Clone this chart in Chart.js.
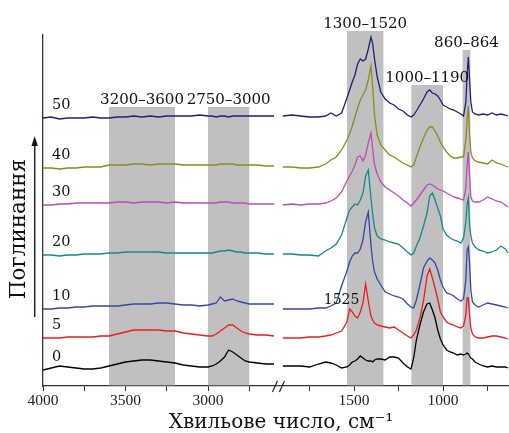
<!DOCTYPE html>
<html lang="uk">
<head>
<meta charset="utf-8">
<title>Поглинання</title>
<script src="https://cdn.jsdelivr.net/npm/chart.js@4.4.1/dist/chart.umd.min.js"></script>
<style>
  html, body { margin: 0; padding: 0; background: #fff; }
  #wrap { position: relative; width: 509px; height: 433px; }
</style>
</head>
<body>
<div id="wrap"><canvas id="spectra"></canvas></div>
<script>
// wavenumbers, cm-1 (left part of the broken axis and right part)
const wnLeft = [4000, 3950, 3900, 3850, 3800, 3750, 3700, 3650, 3600, 3550, 3500, 3450, 3400, 3350, 3300, 3250, 3200,
  3150, 3100, 3050, 3000, 2975, 2950, 2925, 2900, 2875, 2850, 2825, 2800, 2775, 2750, 2700, 2650, 2600];
const wnRight = [1900, 1850, 1800, 1750, 1700, 1660, 1630, 1600, 1570, 1540, 1525, 1510, 1495, 1480, 1465, 1450, 1435,
  1420, 1405, 1395, 1385, 1370, 1350, 1325, 1300, 1275, 1250, 1225, 1200, 1180, 1165, 1150, 1130, 1110, 1090, 1075,
  1060, 1045, 1030, 1015, 1000, 980, 960, 940, 920, 900, 885, 872, 865, 858, 851, 844, 835, 820, 800, 775, 750, 725,
  700, 675, 650, 635];

// absorbance (stacked, arbitrary units)
const s0L = [16, 18, 20, 19, 18, 17, 17, 18, 20, 22, 24, 25, 26, 26, 25, 24, 23, 21, 20, 19, 19, 20, 22, 25, 29, 36, 34, 31, 28, 25, 24, 23, 22, 22];
const s0R = [20, 20, 20, 19, 22, 24, 23, 21, 18, 19, 21, 24, 25, 27, 30, 28, 26, 25, 25, 24, 26, 27, 27, 26, 29, 29, 28, 23, 19, 17,
  28, 46, 61, 74, 82, 83, 76, 68, 56, 47, 41, 36, 34, 33, 31, 32, 31, 32, 33, 32, 30, 28, 27, 24, 22, 20, 19, 20, 19, 19, 19, 18];
const s5L = [48, 48, 48, 49, 49, 49, 49, 50, 50, 52, 54, 56, 56, 56, 56, 55, 55, 53, 52, 51, 50, 50, 52, 55, 58, 61, 61, 58, 55, 53, 52, 51, 51, 50];
const s5R = [48, 48, 48, 49, 49, 50, 51, 53, 55, 64, 77, 74, 70, 68, 74, 83, 102, 85, 70, 66, 63, 61, 60, 59, 58, 59, 56, 53, 50, 48,
  51, 56, 68, 85, 110, 117, 108, 98, 87, 74, 69, 64, 62, 61, 59, 58, 60, 71, 88, 88, 71, 58, 52, 49, 48, 48, 49, 50, 50, 49, 48, 47];
const s10L = [77, 77, 78, 78, 79, 79, 80, 80, 80, 80, 81, 82, 82, 82, 83, 83, 82, 81, 81, 80, 81, 82, 83, 89, 85, 86, 87, 85, 84, 83, 82, 82, 82, 82];
const s10R = [77, 77, 77, 77, 78, 78, 80, 83, 100, 115, 124, 130, 133, 133, 137, 146, 164, 174, 141, 124, 114, 107, 101, 94, 92, 90, 89, 87, 82, 79,
  78, 86, 101, 118, 125, 128, 126, 123, 116, 106, 99, 93, 92, 90, 87, 85, 87, 106, 136, 139, 124, 96, 84, 81, 79, 81, 83, 82, 81, 80, 79, 78];
const s20L = [131, 131, 130, 131, 131, 132, 132, 132, 133, 133, 134, 134, 134, 134, 134, 133, 133, 133, 133, 133, 133, 133, 134, 135, 135, 136, 135, 134, 134, 133, 133, 133, 132, 132];
const s20R = [132, 132, 131, 131, 130, 135, 138, 142, 151, 168, 176, 179, 182, 181, 186, 193, 210, 216, 188, 171, 158, 150, 147, 146, 144, 143, 142, 138, 134, 131,
  133, 140, 148, 160, 173, 190, 193, 186, 178, 170, 157, 151, 148, 146, 145, 143, 148, 164, 181, 188, 161, 150, 143, 139, 136, 135, 133, 134, 136, 140, 137, 133];
const s30L = [181, 181, 182, 182, 183, 183, 183, 183, 183, 184, 184, 183, 184, 184, 184, 183, 184, 183, 183, 183, 183, 183, 183, 184, 184, 184, 183, 183, 183, 183, 182, 182, 182, 182];
const s30R = [181, 182, 181, 182, 182, 183, 185, 188, 194, 205, 210, 215, 221, 229, 230, 225, 231, 243, 253, 236, 221, 212, 204, 199, 196, 193, 190, 186, 183, 180,
  183, 186, 191, 196, 201, 202, 201, 199, 197, 196, 195, 193, 191, 189, 188, 187, 186, 198, 221, 234, 211, 189, 185, 184, 184, 186, 189, 187, 185, 184, 181, 179];
const s40L = [218, 218, 217, 218, 218, 219, 219, 219, 221, 221, 221, 222, 222, 221, 222, 222, 222, 221, 221, 221, 221, 221, 221, 222, 222, 222, 222, 221, 221, 221, 221, 221, 220, 220];
const s40R = [219, 219, 218, 218, 219, 222, 226, 229, 236, 246, 252, 260, 269, 278, 286, 291, 296, 306, 320, 298, 271, 251, 241, 236, 231, 229, 226, 223, 221, 219,
  221, 229, 239, 248, 256, 259, 259, 255, 250, 244, 239, 234, 230, 228, 228, 229, 229, 246, 266, 280, 251, 234, 228, 225, 224, 223, 222, 226, 223, 222, 220, 219];
const s50L = [268, 269, 267, 268, 268, 268, 269, 268, 268, 269, 269, 270, 269, 270, 269, 270, 270, 270, 270, 271, 270, 270, 269, 270, 270, 269, 270, 270, 270, 270, 270, 270, 270, 270];
const s50R = [270, 271, 270, 269, 269, 270, 273, 270, 273, 288, 296, 304, 311, 322, 327, 325, 327, 337, 349, 342, 327, 309, 294, 287, 283, 281, 277, 275, 271, 269,
  271, 275, 281, 287, 294, 296, 293, 292, 290, 286, 281, 279, 277, 276, 274, 272, 270, 284, 311, 329, 307, 284, 274, 272, 271, 272, 271, 273, 271, 272, 271, 270];

const seriesNames = ['0', '5', '10', '20', '30', '40', '50'];
const seriesLeft = [s0L, s5L, s10L, s20L, s30L, s40L, s50L];
const seriesRight = [s0R, s5R, s10R, s20R, s30R, s40R, s50R];
const seriesColors = ['#000000', '#ee1c1c', '#3446a8', '#138a8a', '#c04ab4', '#8c8c1c', '#1f1f7a'];

// x axis ticks
const tickValues = [4000, 3750, 3500, 3250, 3000, 2750, 1750, 1500, 1250, 1000, 750];
const tickLabels = ['4000', '', '3500', '', '3000', '', '', '1500', '', '1000', ''];

// highlighted bands: wavenumber range and height
const bandFrom = [3600, 3000, 1540, 1178, 890];
const bandTo = [3200, 2750, 1335, 1000, 847];
const bandTop = [279, 279, 355, 301, 336];
const bandLabels = ['3200–3600', '2750–3000', '1300–1520', '1000–1190', '860–864'];

// broken axis: 4000..2600 and 1904..630 on one linear scale
function toAxis(v) {
  return v >= 2600 ? 4000 - v : 1885 + (1500 - v) * 1.0788;
}

const datasets = seriesNames.map(function (name, i) {
  const pts = wnLeft.map((w, j) => ({ x: toAxis(w), y: seriesLeft[i][j] }));
  pts.push({ x: (toAxis(2600) + toAxis(1900)) / 2, y: null });
  wnRight.forEach((w, j) => pts.push({ x: toAxis(w), y: seriesRight[i][j] }));
  return {
    label: name,
    data: pts,
    borderColor: seriesColors[i],
    borderWidth: 1.3,
    pointRadius: 0,
    tension: 0,
    spanGaps: false
  };
});

const decor = {
  id: 'decor',
  beforeDatasetsDraw(chart) {
    const ctx = chart.ctx, xs = chart.scales.x, ys = chart.scales.y;
    const bottom = chart.chartArea.bottom - 0.7;
    ctx.save();
    ctx.fillStyle = '#c0c0c0';
    for (let i = 0; i < bandFrom.length; i++) {
      const x1 = xs.getPixelForValue(toAxis(bandFrom[i]));
      const x2 = xs.getPixelForValue(toAxis(bandTo[i]));
      const yt = ys.getPixelForValue(bandTop[i]);
      ctx.fillRect(x1, yt, x2 - x1, bottom - yt);
    }
    ctx.restore();
  },
  afterDraw(chart) {
    const ctx = chart.ctx, xs = chart.scales.x, ys = chart.scales.y;
    const area = chart.chartArea;
    ctx.save();
    ctx.fillStyle = '#111';

    // band labels
    ctx.font = '15px "DejaVu Serif"';
    ctx.textAlign = 'center';
    ctx.textBaseline = 'alphabetic';
    for (let i = 0; i < bandLabels.length; i++) {
      const x1 = xs.getPixelForValue(toAxis(bandFrom[i]));
      const x2 = xs.getPixelForValue(toAxis(bandTo[i]));
      ctx.fillText(bandLabels[i], (x1 + x2) / 2, ys.getPixelForValue(bandTop[i]) - 3);
    }

    // series labels
    ctx.font = '14.5px "DejaVu Serif"';
    ctx.textAlign = 'left';
    ctx.textBaseline = 'middle';
    seriesNames.forEach(function (name, i) {
      ctx.fillText(name, area.left + 9, ys.getPixelForValue(seriesLeft[i][0]) - 13);
    });

    // 1525 peak
    ctx.font = '14px "DejaVu Serif"';
    ctx.textAlign = 'center';
    ctx.fillText('1525', xs.getPixelForValue(toAxis(1525)) - 8, ys.getPixelForValue(s5R[10]) - 9);

    // axis break marks
    const bx = xs.getPixelForValue((toAxis(2600) + toAxis(1900)) / 2);
    const by = area.bottom;
    ctx.strokeStyle = '#222';
    ctx.lineWidth = 1.2;
    ctx.beginPath();
    ctx.moveTo(bx - 6, by + 6); ctx.lineTo(bx - 1, by - 5);
    ctx.moveTo(bx + 1, by + 6); ctx.lineTo(bx + 6, by - 5);
    ctx.stroke();

    // y title with arrow
    ctx.save();
    ctx.translate(19, 229);
    ctx.rotate(-Math.PI / 2);
    ctx.font = '21.5px "DejaVu Serif"';
    ctx.textAlign = 'center';
    ctx.textBaseline = 'middle';
    ctx.fillText('Поглинання', 0, 0);
    ctx.restore();
    ctx.lineWidth = 1.5;
    ctx.beginPath();
    ctx.moveTo(34.7, 317); ctx.lineTo(34.7, 144);
    ctx.stroke();
    ctx.beginPath();
    ctx.moveTo(34.7, 136); ctx.lineTo(31.5, 146); ctx.lineTo(37.9, 146);
    ctx.closePath();
    ctx.fill();

    // x title
    ctx.font = '20px "DejaVu Serif"';
    ctx.textAlign = 'center';
    ctx.textBaseline = 'alphabetic';
    ctx.fillText('Хвильове число, см⁻¹', 281, 428);
    ctx.restore();
  }
};

const chart = new Chart(document.getElementById('spectra'), {
  type: 'line',
  data: { datasets: datasets },
  options: {
    responsive: true,
    maintainAspectRatio: false,
    animation: false,
    layout: { padding: { top: 35, left: 0, right: 0, bottom: 0 } },
    plugins: { legend: { display: false }, tooltip: { enabled: false } },
    scales: {
      x: {
        type: 'linear',
        min: 0,
        max: 2824,
        afterBuildTicks: function (scale) {
          scale.ticks = tickValues.map(v => ({ value: toAxis(v) }));
        },
        afterFit: function (scale) { scale.height = 47; },
        ticks: {
          autoSkip: false,
          maxRotation: 0,
          padding: 1,
          color: '#222',
          font: { family: 'Liberation Serif', size: 15.5 },
          callback: function (val, idx) { return tickLabels[idx]; }
        },
        grid: { drawOnChartArea: false, drawTicks: true, tickLength: 5, color: '#333' },
        border: { color: '#333', width: 1.3 }
      },
      y: {
        min: 0,
        max: 351,
        afterFit: function (scale) { scale.width = 43; },
        ticks: { display: false },
        grid: { display: false },
        border: { color: '#333', width: 1.3 }
      }
    }
  },
  plugins: [decor]
});
</script>
</body>
</html>
